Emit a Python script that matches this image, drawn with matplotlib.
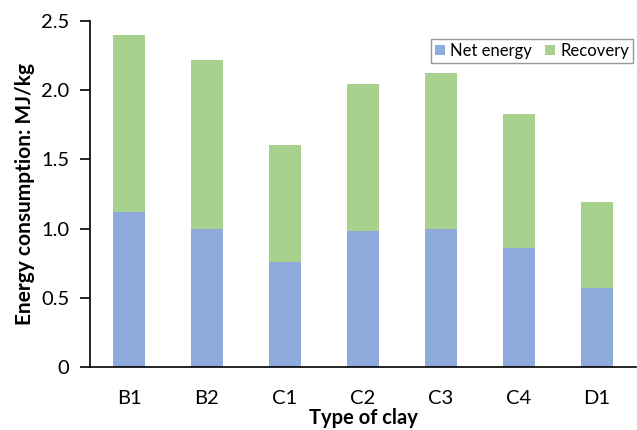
import matplotlib
matplotlib.use("Agg")
import matplotlib.pyplot as plt
import numpy as np

categories = ["B1", "B2", "C1", "C2", "C3", "C4", "D1"]
net_energy = [1.12, 1.00, 0.76, 0.98, 1.00, 0.86, 0.57]
total = [2.40, 2.22, 1.60, 2.04, 2.12, 1.83, 1.19]
recovery = [t - n for t, n in zip(total, net_energy)]
yticks = [0, 0.5, 1.0, 1.5, 2.0, 2.5]
yticklabels = ["0", "0.5", "1.0", "1.5", "2.0", "2.5"]

plt.rcParams['font.family'] = ['Lato', 'DejaVu Sans']

fig = plt.figure(figsize=(6.37, 4.30), dpi=100)
ax = fig.add_axes([0.1413, 0.1458, 0.857, 0.806])

x = np.arange(len(categories))
ax.bar(x, net_energy, width=0.4, color="#8EA9DB", label="Net energy")
ax.bar(x, recovery, width=0.4, bottom=net_energy, color="#A9D18E", label="Recovery")

ax.set_xlim(-0.5, len(categories) - 0.5)
ax.set_ylim(0, 2.5)
ax.set_yticks(yticks)
ax.set_yticklabels(yticklabels)
ax.set_xticks(x)
ax.set_xticklabels(categories)

for s in ["top", "right"]:
    ax.spines[s].set_visible(False)
for s in ["left", "bottom"]:
    ax.spines[s].set_color("black")
    ax.spines[s].set_linewidth(1.2)

ax.tick_params(axis="y", direction="out", length=7, width=1.2, labelsize=14.5, pad=8)
ax.tick_params(axis="x", length=0, labelsize=14.5, pad=16)

ax.set_ylabel("Energy consumption: MJ/kg", fontsize=15, fontweight="bold", labelpad=4)
ax.set_xlabel("Type of clay", fontsize=14.5, fontweight="bold", labelpad=1)

leg = ax.legend(loc="upper right", bbox_to_anchor=(0.995, 0.948), ncol=2, fontsize=12,
                frameon=True, fancybox=False, edgecolor="#7f7f7f",
                handlelength=0.6, handleheight=0.6, handletextpad=0.3,
                columnspacing=0.8, borderpad=0.25, borderaxespad=0)
leg.get_frame().set_linewidth(1.0)

fig.savefig("out.png", dpi=100)
